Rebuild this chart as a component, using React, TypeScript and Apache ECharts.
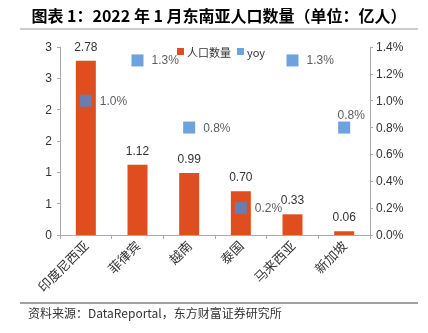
import React, { useEffect, useRef } from "react";
import * as echarts from "echarts";

const categories = ["印度尼西亚", "菲律宾", "越南", "泰国", "马来西亚", "新加坡"];
const population = [2.78, 1.12, 0.99, 0.7, 0.33, 0.06];
const yoy = [1.0, 1.3, 0.8, 0.2, 1.3, 0.8];
const titleText = "图表 1：2022 年 1 月东南亚人口数量（单位：亿人）";
const sourceText = "资料来源：DataReportal，东方财富证券研究所";

const CJK = '"Noto Sans CJK SC", "Noto Sans", sans-serif';
const NUM = '"Liberation Sans", Arial, sans-serif';

export default function App() {
  const ref = useRef<HTMLDivElement>(null);
  useEffect(() => {
    if (!ref.current) return;
    const chart = echarts.init(ref.current, undefined, { renderer: "svg" });
    const yoyData = yoy.map((v, i) =>
      i === yoy.length - 1
        ? { value: v, label: { position: "top", distance: 1, offset: [7, 0] } }
        : v
    );
    chart.setOption({
      animation: false,
      textStyle: { fontFamily: CJK },
      grid: { left: 60, right: 58, top: 47, bottom: 98 },
      legend: {
        left: 172,
        top: 41,
        itemWidth: 7,
        itemHeight: 7,
        itemGap: 6,
        textStyle: { fontSize: 11, color: "#333", padding: [0, 0, 0, -2] },
        data: [
          { name: "人口数量", icon: "rect" },
          { name: "yoy", icon: "rect" },
        ],
      },
      xAxis: {
        type: "category",
        data: categories,
        axisLine: { lineStyle: { color: "#aaa" } },
        axisTick: { show: true, length: 4, lineStyle: { color: "#aaa" } },
        axisLabel: { rotate: 45, fontSize: 13, color: "#333", margin: 8 },
      },
      yAxis: [
        {
          type: "value",
          min: 0,
          max: 3,
          interval: 0.5,
          splitLine: { show: false },
          axisLine: { show: true, lineStyle: { color: "#aaa" } },
          axisTick: { show: true, length: 3, lineStyle: { color: "#aaa" } },
          axisLabel: {
            fontSize: 12,
            color: "#333",
            margin: 8,
            fontFamily: NUM,
            formatter: (v: number) => String(Math.round(v)),
          },
        },
        {
          type: "value",
          min: 0,
          max: 1.4,
          interval: 0.2,
          splitLine: { show: false },
          axisLine: { show: true, lineStyle: { color: "#aaa" } },
          axisTick: { show: true, length: 3, lineStyle: { color: "#aaa" } },
          axisLabel: {
            fontSize: 12,
            color: "#333",
            margin: 6,
            fontFamily: NUM,
            formatter: (v: number) => v.toFixed(1) + "%",
          },
        },
      ],
      series: [
        {
          name: "人口数量",
          type: "bar",
          data: population,
          barWidth: 20,
          itemStyle: { color: "#E04E1F" },
          label: {
            show: true,
            position: "top",
            distance: 8,
            fontSize: 12,
            color: "#333",
            fontFamily: NUM,
            formatter: (p: any) => p.value.toFixed(2),
          },
        },
        {
          name: "yoy",
          type: "scatter",
          yAxisIndex: 1,
          data: yoyData,
          symbol: "rect",
          symbolSize: 12,
          itemStyle: { color: "#4A8BD6" },
          label: {
            show: true,
            position: "right",
            distance: 8,
            fontSize: 12,
            color: "#333",
            fontFamily: NUM,
            formatter: (p: any) => p.value.toFixed(1) + "%",
          },
        },
      ],
      graphic: [
        {
          type: "text",
          x: 219,
          y: 15,
          style: {
            text: titleText,
            font: `bold 16px ${CJK}`,
            fill: "#000",
            align: "center",
            verticalAlign: "middle",
          },
        },
        {
          type: "line",
          shape: { x1: 20, y1: 29, x2: 418, y2: 29 },
          style: { stroke: "#999", lineWidth: 1 },
        },
        {
          type: "line",
          shape: { x1: 20, y1: 303, x2: 418, y2: 303 },
          style: { stroke: "#444", lineWidth: 1 },
        },
        {
          type: "text",
          x: 28,
          y: 312,
          style: {
            text: sourceText,
            font: `12px ${CJK}`,
            fill: "#333",
            verticalAlign: "middle",
          },
        },
      ],
    });
    return () => chart.dispose();
  }, []);
  return (
    <div
      ref={ref}
      style={{ position: "fixed", left: 0, top: 0, width: 428, height: 333 }}
    />
  );
}
